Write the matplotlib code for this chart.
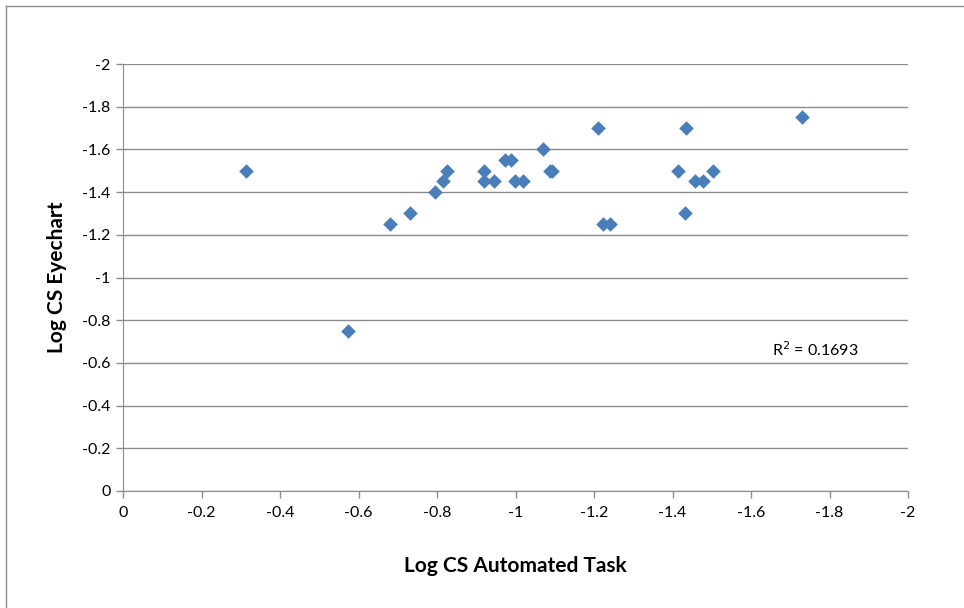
import matplotlib
matplotlib.use("Agg")
import matplotlib.pyplot as plt
from matplotlib.lines import Line2D

# data (both axes run from 0 to -2)
automated = [-0.313, -0.572, -0.679, -0.731, -0.795, -0.815, -0.825,
             -0.920, -0.921, -0.944, -0.974, -0.988, -0.999, -1.020,
             -1.069, -1.088, -1.093, -1.211, -1.224, -1.241,
             -1.415, -1.435, -1.433, -1.457, -1.477, -1.504, -1.729]
eyechart = [-1.50, -0.75, -1.25, -1.30, -1.40, -1.45, -1.50,
            -1.50, -1.45, -1.45, -1.55, -1.55, -1.45, -1.45,
            -1.60, -1.50, -1.50, -1.70, -1.25, -1.25,
            -1.50, -1.70, -1.30, -1.45, -1.45, -1.50, -1.75]
ticks = [0, -0.2, -0.4, -0.6, -0.8, -1, -1.2, -1.4, -1.6, -1.8, -2]
tick_labels = ["0", "-0.2", "-0.4", "-0.6", "-0.8", "-1", "-1.2", "-1.4", "-1.6", "-1.8", "-2"]
r2_text = "R$^2$ = 0.1693"

plt.rcParams['font.family'] = ['Lato', 'DejaVu Sans']
grey = "#8c8c8c"

fig = plt.figure(figsize=(9.64, 6.08), dpi=100)
ax = fig.add_axes([123/964, 1-491/608, (908-123)/964, (491-64)/608])

ax.scatter(automated, eyechart, marker="D", s=55, color="#4A7EBB", zorder=3, linewidths=0)

ax.set_xlim(0, -2)
ax.set_ylim(0, -2)
ax.set_xticks(ticks)
ax.set_xticklabels(tick_labels)
ax.set_yticks(ticks)
ax.set_yticklabels(tick_labels)
ax.tick_params(axis="both", labelsize=11.5, color=grey, length=5, width=1, direction="out")
ax.tick_params(axis="x", pad=6)
ax.tick_params(axis="y", pad=4)

ax.grid(axis="y", color=grey, linewidth=1)
ax.set_axisbelow(True)
for side in ["top", "right"]:
    ax.spines[side].set_visible(False)
for side in ["left", "bottom"]:
    ax.spines[side].set_color(grey)

ax.set_xlabel("Log CS Automated Task", fontsize=15, fontweight="bold", labelpad=26)
ax.set_ylabel("Log CS Eyechart", fontsize=15, fontweight="bold", labelpad=11)

ax.text(-1.653, -0.66, r2_text, fontsize=11.5, va="center", ha="left")

# chart frame (left and top edge)
fig.add_artist(Line2D([6/964, 6/964], [0, 1-6/608], color=grey, linewidth=1, transform=fig.transFigure))
fig.add_artist(Line2D([6/964, 1], [1-6/608, 1-6/608], color=grey, linewidth=1, transform=fig.transFigure))

fig.savefig("out.png", dpi=100)
